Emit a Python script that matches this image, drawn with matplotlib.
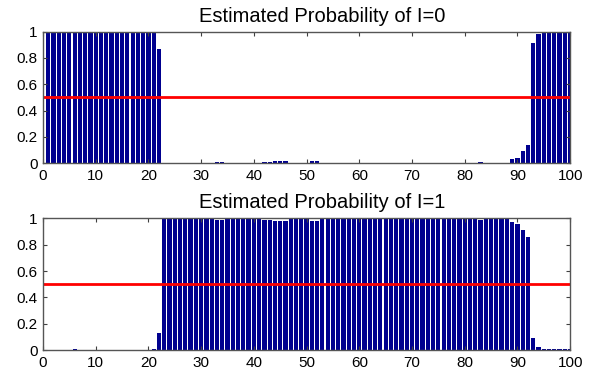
import numpy as np
import matplotlib
matplotlib.use('Agg')
import matplotlib.pyplot as plt

plt.rcParams['font.family'] = ['Liberation Sans', 'DejaVu Sans']

# state index 1..100
idx = np.arange(1, 101)

# estimated probability of I=0
p0 = ([1.0]*5 + [0.99] + [1.0]*14 + [0.99, 0.87]
      + [0.0]*10 + [0.01, 0.01]
      + [0.0]*7 + [0.01, 0.01, 0.02, 0.02, 0.02]
      + [0.0]*4 + [0.02, 0.02]
      + [0.0]*30 + [0.01]
      + [0.0]*5 + [0.03, 0.04, 0.09, 0.14, 0.91, 0.98]
      + [0.995]*6)

# estimated probability of I=1
p1 = ([0.0]*5 + [0.01] + [0.0]*14 + [0.01, 0.13]
      + [1.0]*10 + [0.99, 0.99]
      + [1.0]*7 + [0.99, 0.99, 0.98, 0.98, 0.98]
      + [1.0]*4 + [0.98, 0.98]
      + [1.0]*30 + [0.99]
      + [1.0]*5 + [0.97, 0.96, 0.91, 0.86, 0.09, 0.02]
      + [0.005]*6)

titles = ['Estimated Probability of I=0', 'Estimated Probability of I=1']
xticks = list(range(0, 101, 10))
yticks = [0, 0.2, 0.4, 0.6, 0.8, 1]
yticklabels = ['0', '0.2', '0.4', '0.6', '0.8', '1']
threshold = 0.5

fig = plt.figure(figsize=(5.99, 3.72), dpi=100)
ax0 = fig.add_axes([0.0718, 0.561, 0.880, 0.354])
ax1 = fig.add_axes([0.0718, 0.0591, 0.880, 0.354])

for ax, p, title in zip([ax0, ax1], [p0, p1], titles):
    ax.bar(idx, p, width=0.8, color='#00008f', edgecolor='none')
    ax.axhline(threshold, color='#ff0000', linewidth=2)
    ax.set_xlim(0, 100)
    ax.set_ylim(0, 1)
    ax.set_xticks(xticks)
    ax.set_yticks(yticks)
    ax.set_yticklabels(yticklabels)
    ax.tick_params(direction='in', top=True, right=True, length=3,
                   width=0.8, color='#404040', labelsize=11, pad=4)
    for s in ax.spines.values():
        s.set_color('#555555')
        s.set_linewidth(1.0)
    ax.text(0.53, 1.075, title, transform=ax.transAxes, ha='center',
            va='baseline', fontsize=14.5)

fig.savefig('out.png', dpi=100)
